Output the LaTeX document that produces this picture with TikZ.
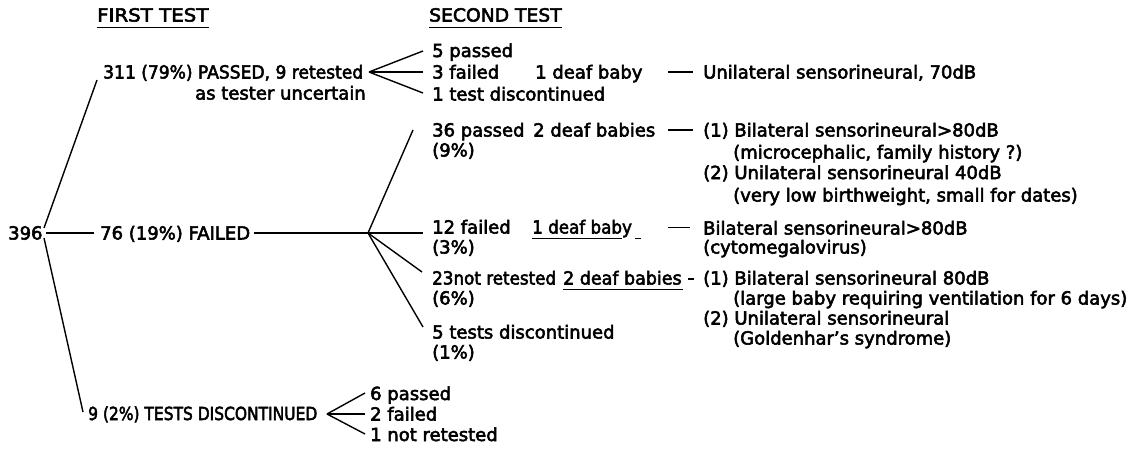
\documentclass[tikz,border=0pt]{standalone}
\usepackage{fontspec}
\setmainfont{DejaVu Sans}[FakeBold=3]
\newcommand\hsc[2]{\scalebox{#1}[1]{#2}}
\begin{document}
\begin{tikzpicture}[x=1pt,y=-1pt,
  lbl/.style={anchor=base west, inner sep=0pt, font=\fontsize{18}{20}\selectfont},
  conn/.style={line width=1.4pt},
  uline/.style={line width=1.2pt}]
\useasboundingbox (0,0) rectangle (1142,448);
% headers
\node[lbl] (h1) at (97,21.5) {\hsc{1.1}{FIRST TEST}};
\node[lbl] (h2) at (429,21.5) {\hsc{1.04}{SECOND TEST}};
\draw[uline] ([yshift=-6pt]h1.base west) -- ([yshift=-6pt]h1.base east);
\draw[uline] ([yshift=-6pt]h2.base west) -- ([yshift=-6pt]h2.base east);
% first test column
\node[lbl] (n396) at (8,239.5) {396};
\node[lbl] (p311) at (103,78.5) {\hsc{0.95}{311 (79\%) PASSED, 9 retested}};
\node[lbl] (p311b) at (195,99.5) {as tester uncertain};
\node[lbl] (f76) at (100,239.5) {76 (19\%) FAILED};
\node[lbl] (d9) at (88,420) {\hsc{0.86}{9 (2\%) TESTS DISCONTINUED}};
% root connectors
\coordinate (rA) at (44,228);
\coordinate (rB) at (46,233);
\coordinate (rC) at (44,238);
\coordinate (eA) at (97,80);
\coordinate (eB) at (94,233);
\coordinate (eC) at (83,412);
\draw[conn] (rA) -- (eA);
\draw[conn] (rB) -- (eB);
\draw[conn] (rC) -- (eC);
% passed group
\coordinate (f1) at (369,72);
\node[lbl] (s5) at (432,57) {5 passed};
\node[lbl] (s3) at (432,78.5) {3 failed};
\node[lbl] (s1) at (432,100.5) {1 test discontinued};
\coordinate (g1a) at (423,51);
\coordinate (g1b) at (423,72);
\coordinate (g1c) at (423,93);
\draw[conn] (f1) -- (g1a);
\draw[conn] (f1) -- (g1b);
\draw[conn] (f1) -- (g1c);
\node[lbl] (db1) at (535,78.5) {1 deaf baby};
\node[lbl] (uni70) at (703,78.5) {Unilateral sensorineural, 70dB};
\draw[conn] ([xshift=-35pt,yshift=6.5pt]uni70.base west) -- ([xshift=-10pt,yshift=6.5pt]uni70.base west);
% failed group
\coordinate (t76) at (254,233);
\coordinate (f2) at (368,233);
\draw[conn] (t76) -- (f2);
\coordinate (g2a) at (413,130);
\coordinate (g2b) at (423,233);
\coordinate (g2c) at (422,272);
\coordinate (g2d) at (423,327);
\draw[conn] (f2) -- (g2a);
\draw[conn] (f2) -- (g2b);
\draw[conn] (f2) -- (g2c);
\draw[conn] (f2) -- (g2d);
% 36 passed
\node[lbl] (p36) at (432,136.5) {36 passed};
\node[lbl] (p36b) at (432,156.5) {(9\%)};
\node[lbl] (db2) at (533,136.5) {2 deaf babies};
\node[lbl] (b1) at (703,136.5) {(1) Bilateral sensorineural>80dB};
\node[lbl] (b1b) at (733,158.5) {(microcephalic, family history ?)};
\node[lbl] (b2) at (703,179) {(2) Unilateral sensorineural 40dB};
\node[lbl] (b2b) at (733,201.5) {(very low birthweight, small for dates)};
\draw[conn] ([xshift=-35pt,yshift=6.5pt]b1.base west) -- ([xshift=-10pt,yshift=6.5pt]b1.base west);
% 12 failed
\node[lbl] (f12) at (432,233.5) {12 failed};
\node[lbl] (f12b) at (432,253.5) {(3\%)};
\node[lbl] (db3) at (532,233.5) {\hsc{0.93}{1 deaf baby}};
\draw[uline] (532,238.5) -- (622,238.5);
\draw[uline] (635,238.5) -- (641,238.5);
\node[lbl] (c1) at (703,234.5) {Bilateral sensorineural>80dB};
\node[lbl] (c1b) at (703,253.5) {(cytomegalovirus)};
\draw[conn] ([xshift=-35pt,yshift=7pt]c1.base west) -- ([xshift=-13pt,yshift=7pt]c1.base west);
% 23 not retested
\node[lbl] (n23) at (432,284.5) {\hsc{0.93}{23not retested}};
\node[lbl] (n23b) at (432,304.5) {(6\%)};
\node[lbl] (db4) at (563,284.5) {\hsc{0.97}{2 deaf babies}};
\draw[uline] (563,289.5) -- (683,289.5);
\node[lbl] (e1) at (703,284.5) {(1) Bilateral sensorineural 80dB};
\node[lbl] (e1b) at (733,304.5) {(large baby requiring ventilation for 6 days)};
\node[lbl] (e2) at (703,324.5) {(2) Unilateral sensorineural};
\node[lbl] (e2b) at (733,344.5) {(Goldenhar's syndrome)};
\draw[conn] ([xshift=-15pt,yshift=5.5pt]e1.base west) -- ([xshift=-9pt,yshift=5.5pt]e1.base west);
% 5 tests discontinued
\node[lbl] (t5) at (432,338.5) {5 tests discontinued};
\node[lbl] (t5b) at (432,358.5) {(1\%)};
% tests discontinued group
\coordinate (f3) at (327,414);
\coordinate (g3a) at (365,393);
\coordinate (g3b) at (365,414);
\coordinate (g3c) at (365,434);
\draw[conn] (f3) -- (g3a);
\draw[conn] (f3) -- (g3b);
\draw[conn] (f3) -- (g3c);
\node[lbl] (q6) at (370,400) {6 passed};
\node[lbl] (q2) at (370,420.5) {2 failed};
\node[lbl] (q1) at (370,441) {1 not retested};
\end{tikzpicture}
\end{document}
